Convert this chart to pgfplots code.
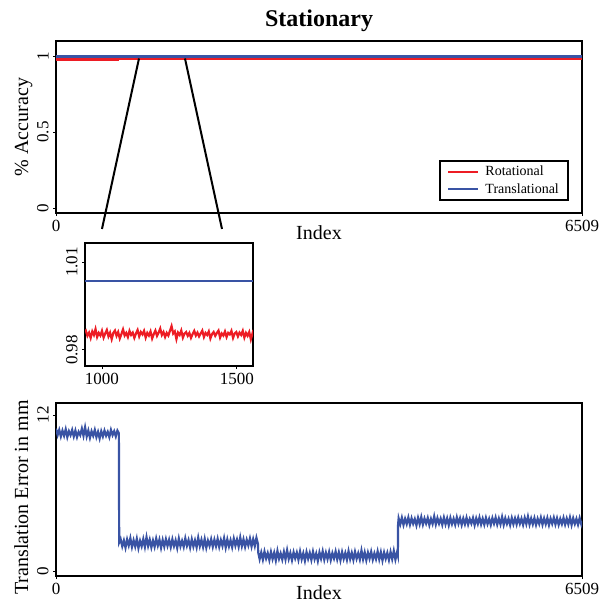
\documentclass[border=0pt]{standalone}
\usepackage{pgfplots}
\pgfplotsset{compat=1.18}
\usepackage{fontspec}
\setmainfont{Liberation Serif}
\definecolor{myred}{RGB}{237,28,36}
\definecolor{myblue}{RGB}{57,83,164}
\pgfplotsset{
  common/.style={
    scale only axis, anchor=south west,
    line width=2.2pt,
    axis line style={line width=2.2pt},
    tick pos=left, tick align=outside, major tick length=3pt,
    tick style={line width=0.8pt, black},
    /pgf/number format/assume math mode=true,
    /pgf/number format/1000 sep={},
    ticklabel style={font=\fontsize{17}{17}\selectfont},
    yticklabel style={rotate=90, anchor=south},
    label style={font=\fontsize{20}{20}\selectfont},
  }
}
\begin{document}
\begin{tikzpicture}
\useasboundingbox (0pt,0pt) rectangle (604pt,-602pt);
% ---------------- top axis
\begin{axis}[common, clip=false,
  at={(56pt,-213pt)}, width=526pt, height=172pt,
  xmin=0, xmax=6509, ymin=-0.033, ymax=1.1,
  xtick={0,6509}, ytick={0,0.5,1},
  title={Stationary},
  title style={font=\fontsize{24}{24}\selectfont\bfseries, at={(axis description cs:0.5,1)}, anchor=base, yshift=9pt},
  xlabel={Index},
  xlabel style={at={(axis description cs:0.5,-0.155)}, anchor=base},
  ylabel={\% Accuracy},
  ylabel style={at={(axis description cs:-0.0532,0.5)}, anchor=base, rotate=0},
  legend style={at={(0.975,0.07)}, anchor=south east, draw=black, line width=2pt,
    font=\fontsize{14}{15}\selectfont, cells={anchor=west}, inner xsep=7pt, inner ysep=3pt, row sep=2.5pt},
  legend image code/.code={\draw[#1, line width=2pt] (0pt,0pt) -- (30pt,0pt); \path (34pt,0pt);},
]
\addplot[myred, line width=1.6pt] coordinates {(0,0.98) (6509,0.98)};
\addlegendentry{Rotational}
\addplot[myred, line width=2.5pt, forget plot] coordinates {(0,0.977) (780,0.977)};
\addplot[myblue, line width=2.5pt] coordinates {(0,0.997) (6509,0.997)};
\addlegendentry{Translational}
\draw[black, line width=2pt] (axis cs:1027,0.985) -- (axis cs:569,-0.138);
\draw[black, line width=2pt] (axis cs:1596,0.985) -- (axis cs:2054,-0.138);
\end{axis}
% ---------------- inset
\begin{axis}[common,
  at={(85pt,-366pt)}, width=168pt, height=123pt,
  xmin=937, xmax=1560, ymin=0.9745, ymax=1.0165,
  xtick={1000,1500}, ytick={0.98,1.01},
  yticklabel style={/pgf/number format/fixed, /pgf/number format/precision=2},
]
\addplot[myred, line width=2.2pt] coordinates {
(937,0.9863) (940,0.9866) (946,0.9848) (952,0.9859) (958,0.9841) (964,0.9863) (970,0.9851) (976,0.9871) (982,0.9844) (988,0.9858)
(994,0.9849) (1000,0.9865) (1006,0.9842) (1012,0.9856) (1018,0.9868) (1024,0.9846) (1030,0.9859) (1036,0.9837) (1042,0.9858) (1048,0.9866)
(1054,0.9848) (1060,0.9861) (1066,0.9839) (1072,0.9854) (1078,0.9870) (1084,0.9849) (1090,0.9858) (1096,0.9844) (1102,0.9865) (1108,0.9851)
(1114,0.9859) (1120,0.9841) (1126,0.9856) (1132,0.9868) (1138,0.9846) (1144,0.9861) (1150,0.9853) (1156,0.9865) (1162,0.9842) (1168,0.9858)
(1174,0.9849) (1180,0.9863) (1186,0.9839) (1192,0.9854) (1198,0.9866) (1204,0.9848) (1210,0.9859) (1216,0.9873) (1222,0.9851) (1228,0.9861)
(1234,0.9844) (1240,0.9858) (1246,0.9849) (1252,0.9865) (1258,0.9881) (1264,0.9856) (1270,0.9863) (1276,0.9837) (1282,0.9859) (1288,0.9851)
(1294,0.9866) (1300,0.9842) (1306,0.9856) (1312,0.9861) (1318,0.9848) (1324,0.9858) (1330,0.9841) (1336,0.9854) (1342,0.9865) (1348,0.9849)
(1354,0.9859) (1360,0.9846) (1366,0.9856) (1372,0.9866) (1378,0.9844) (1384,0.9858) (1390,0.9851) (1396,0.9863) (1402,0.9839) (1408,0.9854)
(1414,0.9861) (1420,0.9848) (1426,0.9858) (1432,0.9866) (1438,0.9842) (1444,0.9856) (1450,0.9849) (1456,0.9863) (1462,0.9844) (1468,0.9858)
(1474,0.9853) (1480,0.9865) (1486,0.9841) (1492,0.9856) (1498,0.9861) (1504,0.9846) (1510,0.9859) (1516,0.9851) (1522,0.9865) (1528,0.9842)
(1534,0.9858) (1540,0.9848) (1546,0.9861) (1552,0.9836) (1558,0.9856) (1560,0.9849)};
\addplot[myblue, line width=1.8pt] coordinates {(937,1.0035) (1560,1.0035)};
\end{axis}
% ---------------- bottom axis
\begin{axis}[common,
  at={(56pt,-576pt)}, width=526pt, height=173pt,
  xmin=0, xmax=6509, ymin=-0.38, ymax=12.92,
  xtick={0,6509}, ytick={0,12},
  xlabel={Index},
  xlabel style={at={(axis description cs:0.5,-0.133)}, anchor=base},
  ylabel={Translation Error in mm},
  ylabel style={at={(axis description cs:-0.0532,0.454)}, anchor=base, rotate=0},
]
\addplot[myblue, line width=2.2pt] coordinates {
(0,10.95) (20,10.45) (40,10.85) (60,10.35) (80,10.8) (100,10.4) (120,10.9) (140,10.3) (160,10.75) (180,10.45)
(200,10.85) (220,10.35) (240,10.8) (260,10.3) (280,10.7) (300,10.45) (320,10.95) (340,10.4) (360,11.05) (380,10.35)
(400,10.8) (420,10.25) (440,10.75) (460,10.4) (480,10.85) (500,10.3) (520,10.7) (540,10.2) (560,10.75) (580,10.35)
(600,10.8) (620,10.4) (640,10.7) (660,10.3) (680,10.85) (700,10.45) (720,10.75) (740,10.35) (760,10.8) (778,10.6)
(782,2.2) (800,2.45) (820,1.90) (840,2.35) (860,1.80) (880,2.43) (900,1.97) (920,2.53) (940,1.85) (960,2.37) (980,1.89)
(1000,2.48) (1020,1.77) (1040,2.33) (1060,1.91) (1080,2.46) (1100,1.86) (1120,2.60) (1140,1.93) (1160,2.41) (1180,1.82)
(1200,2.35) (1220,1.87) (1240,2.50) (1260,1.96) (1280,2.42) (1300,1.79) (1320,2.39) (1340,1.88) (1360,2.45) (1380,1.94)
(1400,2.40) (1420,1.84) (1440,2.44) (1460,1.92) (1480,2.36) (1500,1.78) (1520,2.49) (1540,1.90) (1560,2.32) (1580,1.86)
(1600,2.51) (1620,1.95) (1640,2.38) (1660,1.81) (1680,2.44) (1700,1.89) (1720,2.36) (1740,1.83) (1760,2.56) (1780,1.92)
(1800,2.40) (1820,1.85) (1840,2.47) (1860,1.80) (1880,2.34) (1900,1.94) (1920,2.45) (1940,1.87) (1960,2.41) (1980,1.91)
(2000,2.47) (2020,1.86) (2040,2.38) (2060,1.93) (2080,2.52) (2100,1.81) (2120,2.43) (2140,1.90) (2160,2.37) (2180,1.84)
(2200,2.49) (2220,1.95) (2240,2.42) (2260,1.88) (2280,2.58) (2300,1.92) (2320,2.44) (2340,1.86) (2360,2.40) (2380,1.97)
(2400,2.50) (2420,1.89) (2440,2.45) (2460,1.93) (2480,2.55) (2500,2.05)
(2502,1.45) (2520,0.92) (2540,1.43) (2560,0.88) (2580,1.50) (2600,0.97) (2620,1.38) (2640,0.85) (2660,1.47) (2680,0.93)
(2700,1.41) (2720,0.82) (2740,1.55) (2760,0.95) (2780,1.36) (2800,0.89) (2820,1.48) (2840,0.90) (2860,1.60) (2880,0.94)
(2900,1.39) (2920,0.84) (2940,1.45) (2960,0.98) (2980,1.42) (3000,0.87) (3020,1.51) (3040,0.91) (3060,1.37) (3080,0.80)
(3100,1.46) (3120,0.95) (3140,1.40) (3160,0.86) (3180,1.49) (3200,0.92) (3220,1.35) (3240,0.78) (3260,1.44) (3280,0.96)
(3300,1.52) (3320,0.88) (3340,1.41) (3360,0.93) (3380,1.47) (3400,0.85) (3420,1.38) (3440,0.97) (3460,1.50) (3480,0.90)
(3500,1.43) (3520,0.83) (3540,1.46) (3560,0.94) (3580,1.39) (3600,0.87) (3620,1.53) (3640,0.92) (3660,1.40) (3680,0.86)
(3700,1.48) (3720,0.95) (3740,1.37) (3760,0.89) (3780,1.58) (3800,0.91) (3820,1.44) (3840,0.84) (3860,1.42) (3880,0.96)
(3900,1.49) (3920,0.88) (3940,1.36) (3960,0.93) (3980,1.51) (4000,0.90) (4020,1.45) (4040,0.82) (4060,1.43) (4080,0.95)
(4100,1.40) (4120,0.86) (4140,1.47) (4160,0.92) (4180,1.55) (4200,0.89) (4220,1.44) (4230,1.20)
(4233,3.55) (4240,4.05) (4260,3.60) (4280,4.10) (4300,3.55) (4320,4.02) (4340,3.62) (4360,4.12) (4380,3.57) (4400,4.06)
(4420,3.64) (4440,4.00) (4460,3.52) (4480,4.09) (4500,3.61) (4520,4.15) (4540,3.58) (4560,4.04) (4580,3.66) (4600,4.08)
(4620,3.54) (4640,4.01) (4660,3.63) (4680,4.20) (4700,3.59) (4720,4.07) (4740,3.65) (4760,4.03) (4780,3.56) (4800,4.11)
(4820,3.60) (4840,4.05) (4860,3.53) (4880,4.09) (4900,3.62) (4920,4.02) (4940,3.57) (4960,4.13) (4980,3.64) (5000,4.06)
(5020,3.55) (5040,4.04) (5060,3.61) (5080,4.10) (5100,3.58) (5120,4.00) (5140,3.66) (5160,4.08) (5180,3.54) (5200,4.05)
(5220,3.63) (5240,4.12) (5260,3.59) (5280,4.03) (5300,3.57) (5320,4.09) (5340,3.62) (5360,4.01) (5380,3.55) (5400,4.07)
(5420,3.65) (5440,4.11) (5460,3.58) (5480,4.04) (5500,3.60) (5520,4.16) (5540,3.56) (5560,4.06) (5580,3.63) (5600,4.02)
(5620,3.54) (5640,4.08) (5660,3.61) (5680,4.05) (5700,3.59) (5720,4.10) (5740,3.64) (5760,4.03) (5780,3.56) (5800,4.09)
(5820,3.62) (5840,4.18) (5860,3.58) (5880,4.04) (5900,3.60) (5920,4.07) (5940,3.55) (5960,4.02) (5980,3.63) (6000,4.11)
(6020,3.57) (6040,4.05) (6060,3.61) (6080,4.08) (6100,3.54) (6120,4.03) (6140,3.64) (6160,4.10) (6180,3.59) (6200,4.06)
(6220,3.56) (6240,4.01) (6260,3.62) (6280,4.09) (6300,3.58) (6320,4.04) (6340,3.60) (6360,4.12) (6380,3.55) (6400,4.06)
(6420,3.63) (6440,4.02) (6460,3.57) (6480,4.08) (6500,3.61) (6509,3.85)};
\end{axis}
\end{tikzpicture}
\end{document}
